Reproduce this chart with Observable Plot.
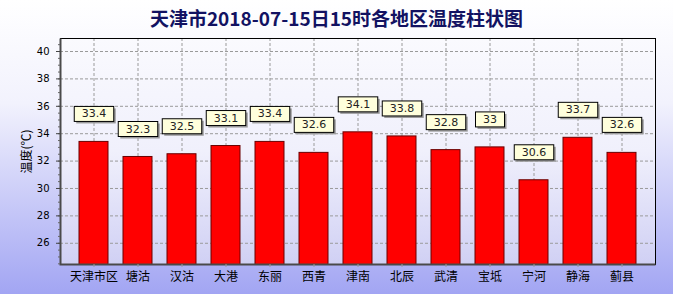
<!DOCTYPE html>
<html><head><meta charset="utf-8">
<script src="https://cdn.jsdelivr.net/npm/d3@7"></script>
<script src="https://cdn.jsdelivr.net/npm/@observablehq/plot@0.6"></script>
<style>
body{margin:0}
#wrap{position:relative;width:673px;height:294px;background:linear-gradient(to bottom,#ffffff 0%,#f2f2fd 35%,#a2a5f3 100%);overflow:hidden}
#title{position:absolute;left:0;top:6px;width:673px;text-align:center;font:bold 19px "Noto Sans CJK SC";color:#121262;line-height:24px;z-index:2}
#wrap svg{position:absolute;left:0;top:0}
</style></head>
<body><div id="wrap"><div id="title">天津市2018-07-15日15时各地区温度柱状图</div></div>
<script>
const categories = ["天津市区","塘沽","汉沽","大港","东丽","西青","津南","北辰","武清","宝坻","宁河","静海","蓟县"];
const temperatures = [33.4,32.3,32.5,33.1,33.4,32.6,34.1,33.8,32.8,33,30.6,33.7,32.6];
const yTicks = [26,28,30,32,34,36,38,40];
const yMinorTicks = d3.range(24.5, 41, 0.5);
const yDomain = [24.45, 40.95];
const yLabel = "温度(℃)";

const data = categories.map((name, i) => ({name, temp: temperatures[i]}));

const W = 673, H = 294, mL = 60, mR = 18, mT = 38, mB = 30;
const per = (W - mL - mR) + (H - mT - mB);

const chart = Plot.plot({
  width: W, height: H,
  marginLeft: mL, marginRight: mR, marginTop: mT, marginBottom: mB,
  style: {background: "transparent", fontFamily: "DejaVu Sans", fontSize: "10px", color: "#000"},
  x: {domain: categories, paddingInner: 0.33, paddingOuter: 0.3, label: null},
  y: {domain: yDomain, label: null},
  marks: [
    Plot.frame({fill: "url(#plotgrad)"}),
    Plot.ruleY(yTicks, {stroke: "#9a9a9a", strokeDasharray: "3,2"}),
    Plot.ruleX(categories, {stroke: "#9a9a9a", strokeDasharray: "3,2"}),
    Plot.barY(data, {x: "name", y: "temp", fill: "#ff0000", stroke: "#6a0000", strokeWidth: 1, clip: true}),
    Plot.frame({stroke: "#000"}),
    Plot.frame({stroke: "#4a4a4a", strokeWidth: 2, strokeDasharray: `0 ${per} ${per}`}),
    Plot.axisY({ticks: yMinorTicks, tickSize: 2, tickFormat: () => "", label: null, stroke: "#666"}),
    Plot.axisY({ticks: yTicks, tickSize: 4, tickPadding: 7, label: null, fontFamily: "DejaVu Sans", fontSize: 10, stroke: "#444"}),
    Plot.axisY({ticks: [], label: yLabel, labelAnchor: "center", labelOffset: 38, labelArrow: "none", fontFamily: "Noto Sans CJK SC", fontSize: 12}),
    Plot.axisX({tickSize: 3, tickPadding: 5, label: null, fontFamily: "Noto Sans CJK SC", fontSize: 12, stroke: "#999"}),
    Plot.text(data, {x: "name", y: "temp", text: d => String(d.temp), dy: -28, fontFamily: "DejaVu Sans", fontSize: 11, fill: "#222"})
  ]
});

document.getElementById("wrap").appendChild(chart);

// gradient for plot area
const ns = "http://www.w3.org/2000/svg";
const defs = document.createElementNS(ns, "defs");
defs.innerHTML = '<linearGradient id="plotgrad" x1="0" y1="0" x2="0" y2="1"><stop offset="0" stop-color="#fafafe"/><stop offset="0.5" stop-color="#f0f0fc"/><stop offset="1" stop-color="#d0d0f4"/></linearGradient>';
chart.insertBefore(defs, chart.firstChild);

// boxes behind value labels
const labelTexts = new Set(temperatures.map(String));
const groups = [...chart.querySelectorAll("g")].filter(gg => {
  const ts = [...gg.children].filter(c => c.tagName.toLowerCase() === "text");
  return ts.length === temperatures.length && ts.every(t => labelTexts.has(t.textContent));
});
groups.forEach(g => {
  [...g.children].filter(c => c.tagName.toLowerCase() === "text").forEach(t => {
    const b = t.getBBox();
    const tr = t.getAttribute("transform");
    const padX = 7.5, h = 15;
    const cy = b.y + b.height / 2;
    const mk = (dx, dy, fill, stroke) => {
      const r = document.createElementNS(ns, "rect");
      r.setAttribute("x", b.x - padX + dx);
      r.setAttribute("y", cy - h / 2 + dy);
      r.setAttribute("width", b.width + 2 * padX);
      r.setAttribute("height", h);
      r.setAttribute("fill", fill);
      r.setAttribute("stroke", stroke);
      r.setAttribute("stroke-width", 1);
      if (tr) r.setAttribute("transform", tr);
      g.insertBefore(r, t);
    };
    mk(2, 2, "#9a9a9a", "none");
    mk(0, 0, "#ffffdc", "#000");
  });
});
</script>
</body></html>
